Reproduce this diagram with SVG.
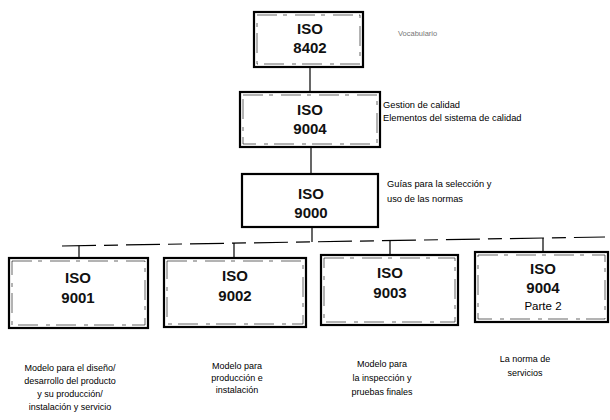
<svg xmlns="http://www.w3.org/2000/svg" width="610" height="420" viewBox="0 0 610 420">
<style>
.box{fill:#fff;stroke:#000;stroke-width:2.2}
.inner{fill:none;stroke:#000;stroke-width:0.6;stroke-dasharray:20 6 4 8}
.t{font-family:"Liberation Sans",Arial,sans-serif;font-size:15px;font-weight:bold;fill:#111;text-anchor:middle}
.p{font-family:"Liberation Sans",Arial,sans-serif;font-size:11.5px;fill:#000;text-anchor:middle}
.d{font-family:"Liberation Sans",Arial,sans-serif;font-size:9px;fill:#000;text-anchor:middle}
.n{font-family:"Liberation Sans",Arial,sans-serif;font-size:9.3px;fill:#000}
.v{font-family:"Liberation Sans",Arial,sans-serif;font-size:7.5px;fill:#777}
.c{fill:none;stroke:#000;stroke-width:1.2}
</style>
<g id="connectors">
<line class="c" x1="310" y1="67" x2="310" y2="92"/>
<line class="c" x1="311" y1="147" x2="311" y2="174"/>
<line class="c" x1="312" y1="227" x2="312" y2="242"/>
<line class="c" x1="62" y1="246" x2="605" y2="237" stroke-dasharray="34 8 14 8"/>
<line class="c" x1="79" y1="245.7" x2="79" y2="258"/>
<line class="c" x1="234" y1="243.1" x2="234" y2="258"/>
<line class="c" x1="390" y1="240.6" x2="390" y2="255"/>
<line class="c" x1="543" y1="238" x2="543" y2="252"/>
</g>
<g id="iso8402">
<rect class="box" x="254" y="12" width="109" height="55"/>
<rect class="inner" x="257" y="15" width="103" height="49"/>
<text class="t" x="310" y="34">ISO</text>
<text class="t" x="310" y="53">8402</text>
<text class="v" x="398" y="36">Vocabulario</text>
</g>
<g id="iso9004">
<rect class="box" x="240" y="92" width="140" height="55"/>
<rect class="inner" x="243" y="95" width="134" height="49"/>
<text class="t" x="310" y="115">ISO</text>
<text class="t" x="310" y="134">9004</text>
<text class="n" x="383" y="108">Gestion de calidad</text>
<text class="n" x="383" y="121">Elementos del sistema de calidad</text>
</g>
<g id="iso9000">
<rect class="box" x="242" y="174" width="136" height="53"/>
<text class="t" x="311" y="199">ISO</text>
<text class="t" x="311" y="218">9000</text>
<text class="n" x="387" y="187">Guías para la selección y</text>
<text class="n" x="387" y="202">uso de las normas</text>
</g>
<g id="iso9001">
<rect class="box" x="9" y="258" width="139" height="70"/>
<rect class="inner" x="12" y="261" width="133" height="64"/>
<text class="t" x="78" y="283">ISO</text>
<text class="t" x="78" y="303">9001</text>
<text class="d" x="70" y="371">Modelo para el diseño/</text>
<text class="d" x="70" y="384">desarrollo del producto</text>
<text class="d" x="70" y="397">y su producción/</text>
<text class="d" x="70" y="410">instalación y servicio</text>
</g>
<g id="iso9002">
<rect class="box" x="164" y="258" width="142" height="69"/>
<rect class="inner" x="167" y="261" width="136" height="63"/>
<text class="t" x="235" y="281">ISO</text>
<text class="t" x="235" y="301">9002</text>
<text class="d" x="237" y="369">Modelo para</text>
<text class="d" x="237" y="381">producción e</text>
<text class="d" x="237" y="393">instalación</text>
</g>
<g id="iso9003">
<rect class="box" x="321" y="255" width="137" height="70"/>
<rect class="inner" x="324" y="258" width="131" height="64"/>
<text class="t" x="390" y="278">ISO</text>
<text class="t" x="390" y="298">9003</text>
<text class="d" x="382" y="367">Modelo para</text>
<text class="d" x="382" y="381">la inspección y</text>
<text class="d" x="382" y="395">pruebas finales</text>
</g>
<g id="iso9004p2">
<rect class="box" x="475" y="252" width="133" height="70"/>
<rect class="inner" x="478" y="255" width="127" height="64"/>
<text class="t" x="543" y="274">ISO</text>
<text class="t" x="543" y="293">9004</text>
<text class="p" x="543" y="310">Parte 2</text>
<text class="d" x="525" y="362">La norma de</text>
<text class="d" x="525" y="376">servicios</text>
</g>
</svg>
